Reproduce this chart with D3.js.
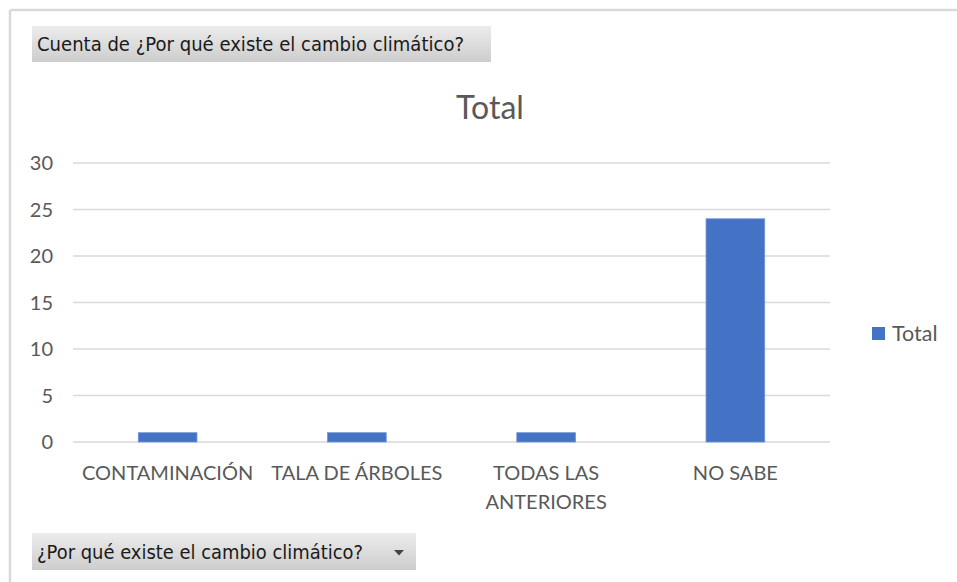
<!DOCTYPE html>
<html>
<head>
<meta charset="utf-8">
<script src="https://cdn.jsdelivr.net/npm/d3@7"></script>
<style>
  body { margin: 0; background: #fff; }
  svg { display: block; }
</style>
</head>
<body>
<div id="chart"></div>
<script>
// Chart data
const categories = ['CONTAMINACIÓN', 'TALA DE ÁRBOLES', 'TODAS LAS ANTERIORES', 'NO SABE'];
const categoryLines = [['CONTAMINACIÓN'], ['TALA DE ÁRBOLES'], ['TODAS LAS', 'ANTERIORES'], ['NO SABE']];
const totals = [1, 1, 1, 24];
const yTicks = [0, 5, 10, 15, 20, 25, 30];
const seriesName = 'Total';
const valueFieldLabel = 'Cuenta de ¿Por qué existe el cambio climático?';
const axisFieldLabel = '¿Por qué existe el cambio climático?';

const width = 957, height = 582;
const margin = { top: 163, right: 127, bottom: 140, left: 73 };
const textColor = '#595959';
const gridColor = '#d9d9d9';
const barColor = '#4472c4';

const svg = d3.select('#chart')
    .append('svg')
    .attr('width', width)
    .attr('height', height);

// Gradient for pivot field buttons
const defs = svg.append('defs');
const grad = defs.append('linearGradient')
    .attr('id', 'btnGrad')
    .attr('x1', 0).attr('y1', 0).attr('x2', 0).attr('y2', 1);
grad.append('stop').attr('offset', '0%').attr('stop-color', '#ececec');
grad.append('stop').attr('offset', '100%').attr('stop-color', '#cdcdcd');

// Outer chart border (top and left visible)
svg.append('line')
    .attr('x1', 10).attr('x2', width).attr('y1', 10).attr('y2', 10)
    .attr('stroke', gridColor).attr('stroke-width', 2.5);
svg.append('line')
    .attr('x1', 10).attr('x2', 10).attr('y1', 10).attr('y2', height)
    .attr('stroke', gridColor).attr('stroke-width', 2.5);

// Field buttons
function fieldButton(x, y, w, h, label, textWidth, dropdown) {
    const g = svg.append('g').attr('transform', `translate(${x},${y})`);
    g.append('rect')
        .attr('width', w).attr('height', h)
        .attr('fill', 'url(#btnGrad)');
    g.append('text')
        .attr('x', 5).attr('y', h / 2 + 7)
        .attr('font-family', 'Tahoma, "DejaVu Sans", sans-serif')
        .attr('font-size', 19.5)
        .attr('fill', '#1a1a1a')
        .attr('textLength', textWidth)
        .attr('lengthAdjust', 'spacingAndGlyphs')
        .text(label);
    if (dropdown) {
        const cx = w - 17, cy = h / 2 + 1;
        g.append('path')
            .attr('d', `M${cx - 5},${cy - 2.5}L${cx + 5},${cy - 2.5}L${cx},${cy + 3}Z`)
            .attr('fill', '#444');
    }
}
fieldButton(32, 26, 459, 36, valueFieldLabel, 427, false);
fieldButton(32, 533, 384, 37, axisFieldLabel, 326, true);

// Scales
const innerW = width - margin.left - margin.right;
const innerH = height - margin.top - margin.bottom;

const x = d3.scaleBand()
    .domain(categories)
    .range([margin.left, margin.left + innerW])
    .paddingInner(0.69)
    .paddingOuter(0.345);

const y = d3.scaleLinear()
    .domain([0, 30])
    .range([margin.top + innerH, margin.top]);

// Gridlines
svg.append('g')
    .selectAll('line')
    .data(yTicks)
    .join('line')
    .attr('x1', margin.left)
    .attr('x2', margin.left + innerW)
    .attr('y1', d => y(d))
    .attr('y2', d => y(d))
    .attr('stroke', gridColor)
    .attr('stroke-width', 1.5);

// Y axis tick labels
svg.append('g')
    .selectAll('text')
    .data(yTicks)
    .join('text')
    .attr('x', 53)
    .attr('y', d => y(d) + 7)
    .attr('text-anchor', 'end')
    .attr('font-family', 'Lato, sans-serif')
    .attr('font-size', 20)
    .attr('fill', textColor)
    .text(d => d);

// Bars
svg.append('g')
    .selectAll('rect')
    .data(totals)
    .join('rect')
    .attr('x', (d, i) => x(categories[i]))
    .attr('y', d => y(d))
    .attr('width', x.bandwidth())
    .attr('height', d => y(0) - y(d))
    .attr('fill', barColor)
    .attr('stroke', '#6f93d6')
    .attr('stroke-width', 0.8);

// Category labels
const labels = svg.append('g')
    .selectAll('text')
    .data(categories)
    .join('text')
    .attr('x', d => x(d) + x.bandwidth() / 2)
    .attr('y', 480)
    .attr('text-anchor', 'middle')
    .attr('font-family', 'Lato, sans-serif')
    .attr('font-size', 20)
    .attr('fill', textColor);
labels.each(function(d, i) {
    d3.select(this).selectAll('tspan')
        .data(categoryLines[i])
        .join('tspan')
        .attr('x', x(d) + x.bandwidth() / 2)
        .attr('dy', (t, j) => j === 0 ? 0 : 29)
        .text(t => t);
});

// Title
svg.append('text')
    .attr('x', 490)
    .attr('y', 119)
    .attr('text-anchor', 'middle')
    .attr('font-family', 'Lato, sans-serif')
    .attr('font-size', 32)
    .attr('fill', textColor)
    .text(seriesName);

// Legend
const legend = svg.append('g').attr('transform', 'translate(872,327)');
legend.append('rect')
    .attr('width', 13).attr('height', 13)
    .attr('fill', barColor);
legend.append('text')
    .attr('x', 20).attr('y', 14)
    .attr('font-family', 'Lato, sans-serif')
    .attr('font-size', 21.5)
    .attr('fill', textColor)
    .text(seriesName);
</script>
</body>
</html>
